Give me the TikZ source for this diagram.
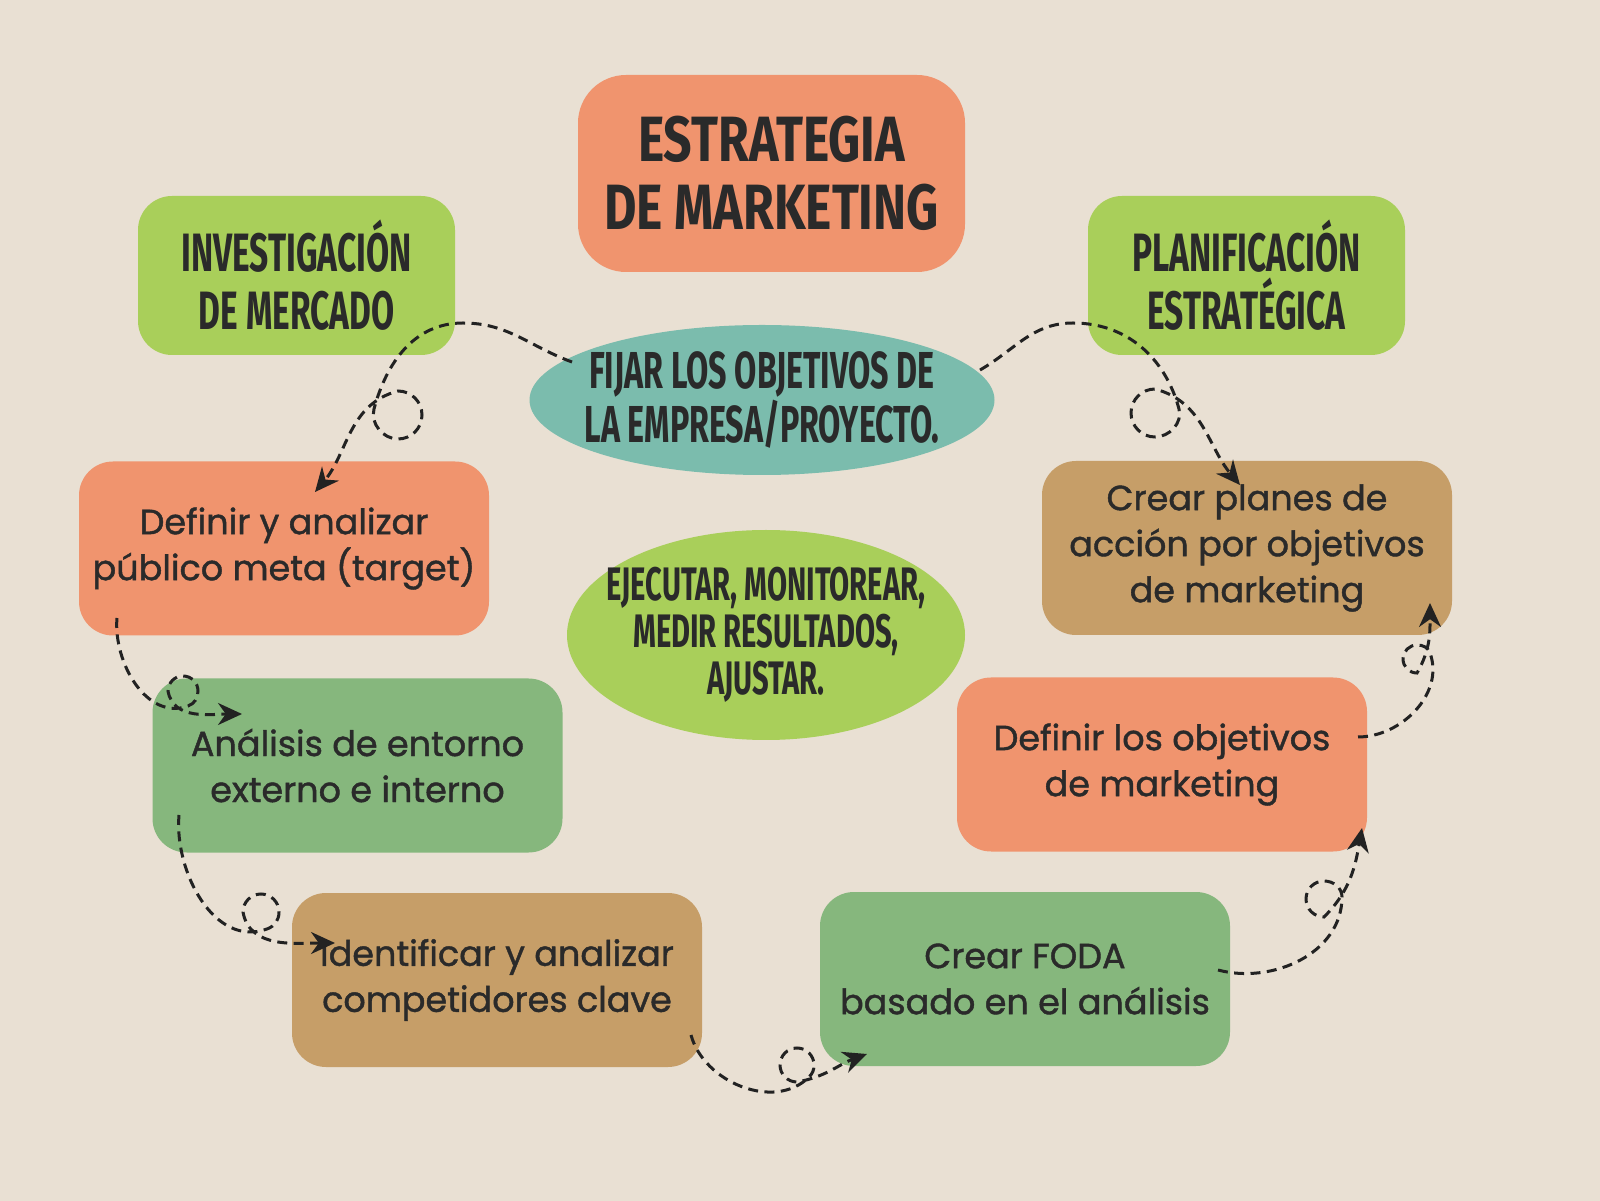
\documentclass[tikz,border=0pt]{standalone}
\usepackage{fontspec}
\setmainfont{Poppins}[FakeBold=1.2]
\newfontfamily\headfont{Fira Sans}[FakeStretch=0.62]
\newfontfamily\titlefont{Fira Sans}[FakeStretch=0.78]
\newfontfamily\bodyfont{Poppins}[FakeBold=1.2]
\usetikzlibrary{arrows.meta,shapes.geometric}
\definecolor{bg}{HTML}{E9E0D3}
\definecolor{orng}{HTML}{F0946E}
\definecolor{lgreen}{HTML}{A9CF5A}
\definecolor{teal}{HTML}{7BBCAD}
\definecolor{brwn}{HTML}{C69E68}
\definecolor{mgreen}{HTML}{86B77D}
\definecolor{ink}{HTML}{2A2A2A}
\definecolor{dash}{HTML}{222222}
\begin{document}
\begin{tikzpicture}[x=0.5pt,y=0.5pt,
  box/.style={rectangle, rounded corners=17pt, inner sep=0pt, align=center, text=ink,
    minimum width=205pt, minimum height=87pt,
    font=\bodyfont\fontsize{17.5}{23}\selectfont},
  headbox/.style={rectangle, rounded corners=17pt, inner sep=0pt, align=center, text=ink,
    minimum width=158.5pt, minimum height=79.5pt,
    font=\headfont\bfseries\fontsize{27}{29}\selectfont},
  blob/.style={ellipse, inner xsep=-40pt, inner ysep=-20pt, align=center, text=ink},
  conn/.style={draw=dash, line width=1.5pt, dash pattern=on 5pt off 3.2pt,
    -{Stealth[length=12pt,width=11pt]}}
]
\useasboundingbox (0,0) rectangle (1600,1200);
\fill[bg] (-60,-60) rectangle (1660,1260);

% title
\node[rectangle, rounded corners=24pt, fill=orng, inner sep=0pt, align=center, text=ink,
  minimum width=193.5pt, minimum height=98.5pt,
  font=\titlefont\bfseries\fontsize{32}{34}\selectfont] (title) at (771.5,1026.5)
  {ESTRATEGIA\\DE MARKETING};

% headings
\node[headbox, fill=lgreen] (inv) at (296.5,924.5) {INVESTIGACIÓN\\DE MERCADO};
\node[headbox, fill=lgreen] (plan) at (1246.5,924.5) {PLANIFICACIÓN\\ESTRATÉGICA};

% blobs
\node[blob, fill=teal, minimum width=232.5pt, minimum height=75pt,
  font=\headfont\bfseries\fontsize{26}{27}\selectfont] (fijar) at (762,800)
  {FIJAR LOS OBJETIVOS DE\\LA EMPRESA/PROYECTO.};
\node[blob, fill=lgreen, minimum width=199pt, minimum height=105pt,
  font=\headfont\bfseries\fontsize{23.5}{23.5}\selectfont] (ejec) at (766,565)
  {EJECUTAR, MONITOREAR,\\MEDIR RESULTADOS,\\AJUSTAR.};

% steps
\node[box, fill=orng] (def) at (284,651.5) {Definir y analizar\\público meta (target)};
\node[box, fill=mgreen] (ana) at (357.5,434.5) {Análisis de entorno\\externo e interno};
\node[box, fill=brwn] (ide) at (497,220) {Identificar y analizar\\competidores clave};
\node[box, fill=mgreen] (foda) at (1025,221) {Crear FODA\\basado en el análisis};
\node[box, fill=orng] (obj) at (1162,435.5) {Definir los objetivos\\de marketing};
\node[box, fill=brwn] (planes) at (1247,652) {Crear planes de\\acción por objetivos\\de marketing};

% connector 1
\coordinate (c1s) at (572,838);
\coordinate (c1t) at (463,877);
\coordinate (c1x) at (374,791);
\coordinate (c1b) at (398,761);
\coordinate (c1r) at (422,785);
\coordinate (c1u) at (398,809);
\coordinate (c1e) at (315,708);
\draw[conn] (c1s) to[out=160,in=0] (c1t) to[out=180,in=75] (c1x) to[out=255,in=180] (c1b)
  to[out=0,in=270] (c1r) to[out=90,in=0] (c1u) to[out=195,in=50] (c1e);

% connector 2
\coordinate (c2s) at (980,830);
\coordinate (c2t) at (1073,877);
\coordinate (c2x) at (1179,791);
\coordinate (c2b) at (1155,763);
\coordinate (c2l) at (1131,787);
\coordinate (c2u) at (1155,811);
\coordinate (c2e) at (1240,715);
\draw[conn] (c2s) to[out=30,in=180] (c2t) to[out=0,in=105] (c2x) to[out=285,in=0] (c2b)
  to[out=180,in=270] (c2l) to[out=90,in=180] (c2u) to[out=-15,in=130] (c2e);

% connector 3
\coordinate (c3s) at (117,582);
\coordinate (c3x) at (188,494);
\coordinate (c3r) at (198,509);
\coordinate (c3u) at (183,524);
\coordinate (c3l) at (168,509);
\coordinate (c3e) at (242,486);
\draw[conn] (c3s) to[out=265,in=200] (c3x) to[out=20,in=270] (c3r) to[out=90,in=0] (c3u)
  to[out=180,in=90] (c3l) to[out=280,in=180] (c3e);

% connector 4
\coordinate (c4s) at (179,385);
\coordinate (c4x) at (267,271);
\coordinate (c4r) at (279,288);
\coordinate (c4u) at (261,306);
\coordinate (c4l) at (243,288);
\coordinate (c4e) at (335,257);
\draw[conn] (c4s) to[out=265,in=200] (c4x) to[out=20,in=270] (c4r) to[out=90,in=0] (c4u)
  to[out=180,in=90] (c4l) to[out=280,in=180] (c4e);

% connector 5
\coordinate (c5s) at (691,165);
\coordinate (c5x) at (809,123);
\coordinate (c5r) at (814,135);
\coordinate (c5u) at (797,152);
\coordinate (c5l) at (780,135);
\coordinate (c5b) at (797,118);
\coordinate (c5e) at (867,146);
\draw[conn] (c5s) to[out=285,in=225] (c5x) to[out=45,in=270] (c5r) to[out=90,in=0] (c5u)
  to[out=180,in=90] (c5l) to[out=270,in=180] (c5b) to[out=10,in=200] (c5e);

% connector 6
\coordinate (c6s) at (1218,230);
\coordinate (c6x) at (1342,303);
\coordinate (c6u) at (1324,319);
\coordinate (c6l) at (1306,301);
\coordinate (c6b) at (1324,283);
\coordinate (c6e) at (1362,372);
\draw[conn] (c6s) to[out=-15,in=270] (c6x) to[out=90,in=0] (c6u) to[out=180,in=90] (c6l)
  to[out=270,in=180] (c6b) to[out=45,in=260] (c6e);

% connector 7
\coordinate (c7s) at (1358,463);
\coordinate (c7x) at (1430,547);
\coordinate (c7u) at (1417,555);
\coordinate (c7l) at (1403,541);
\coordinate (c7b) at (1417,527);
\coordinate (c7e) at (1430,597);
\draw[conn] (c7s) to[out=0,in=290] (c7x) to[out=110,in=0] (c7u) to[out=180,in=90] (c7l)
  to[out=270,in=180] (c7b) to[out=60,in=270] (c7e);
\end{tikzpicture}
\end{document}
